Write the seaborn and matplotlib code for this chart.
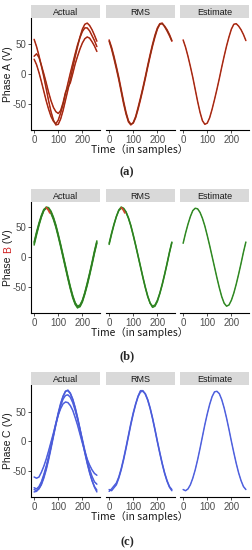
import numpy as np
import pandas as pd
import matplotlib
matplotlib.use("Agg")
import matplotlib.pyplot as plt
import seaborn as sns

sns.set_theme(style="ticks")
plt.rcParams['font.family'] = ['Liberation Sans', 'DejaVu Sans']
plt.rcParams['axes.unicode_minus'] = False

# time axis (samples), every 10 samples
t = list(range(0, 261, 10))

# Phase A
A_act1 = [58, 46, 31, 14, -4, -24, -44, -62, -76, -84, -83, -74, -60, -43, -26, -8, 11, 29, 46, 62, 75, 83, 85, 81, 74, 65, 55]
A_act2 = [30, 34, 28, 15, 1, -14, -30, -44, -55, -62, -65, -60, -47, -30, -22, -14, 1, 17, 30, 42, 52, 59, 62, 60, 54, 47, 38]
A_act3 = [25, 16, 3, -12, -28, -44, -58, -70, -78, -82, -76, -64, -50, -32, -15, 2, 18, 34, 49, 61, 71, 77, 77, 72, 64, 56, 46]
A_rms1 = [57, 45, 30, 13, -5, -25, -45, -63, -77, -83, -81, -72, -58, -42, -25, -7, 12, 30, 47, 62, 75, 83, 84, 80, 74, 66, 56]
A_rms2 = [55, 42, 26, 9, -9, -29, -49, -66, -79, -84, -80, -70, -55, -39, -22, -4, 15, 33, 50, 65, 77, 84, 85, 79, 72, 64, 55]
A_est = [57, 45, 30, 13, -5, -25, -45, -63, -77, -83, -81, -72, -58, -42, -25, -7, 12, 30, 47, 62, 75, 83, 84, 80, 74, 66, 56]

# Phase B
B_act1 = [23, 40, 55, 68, 78, 82, 81, 75, 65, 52, 36, 19, 1, -17, -35, -52, -67, -78, -83, -81, -73, -61, -46, -29, -11, 8, 25]
B_act2 = [20, 37, 53, 67, 78, 84, 83, 77, 67, 54, 38, 21, 3, -15, -33, -50, -65, -77, -84, -84, -76, -63, -48, -31, -13, 6, 23]
B_act3 = [25, 42, 57, 70, 80, 83, 80, 73, 63, 50, 34, 17, -1, -19, -37, -54, -69, -80, -86, -83, -74, -60, -44, -27, -9, 10, 27]
B_rms1 = [23, 40, 55, 68, 78, 82, 81, 75, 65, 52, 36, 19, 1, -17, -35, -52, -67, -78, -83, -81, -73, -61, -46, -29, -11, 8, 25]
B_rms2 = [21, 38, 54, 68, 79, 84, 82, 76, 66, 53, 37, 20, 2, -16, -34, -51, -66, -78, -85, -83, -75, -62, -47, -30, -12, 7, 24]
B_est = [23, 40, 55, 68, 78, 82, 81, 75, 65, 52, 36, 19, 1, -17, -35, -52, -67, -78, -83, -81, -73, -61, -46, -29, -11, 8, 25]
B_hi_t = [50, 55, 60, 65]
B_hi = [83, 81, 78, 74]

# Phase C
C_act1 = [-81, -83, -80, -73, -62, -48, -31, -12, 8, 28, 46, 62, 75, 84, 85, 80, 70, 56, 39, 20, 0, -19, -37, -53, -66, -76, -82]
C_act2 = [-60, -62, -60, -52, -42, -30, -16, -1, 14, 30, 44, 55, 63, 66, 65, 60, 52, 40, 27, 12, -3, -17, -30, -40, -48, -54, -57]
C_act3 = [-78, -80, -76, -68, -56, -42, -26, -8, 10, 28, 45, 60, 71, 77, 78, 74, 65, 52, 37, 20, 3, -15, -32, -47, -59, -68, -72]
C_act4 = [-85, -84, -79, -71, -59, -45, -28, -9, 11, 30, 48, 64, 76, 84, 86, 81, 71, 57, 40, 21, 1, -18, -36, -52, -66, -77, -85]
C_rms1 = [-81, -83, -78, -73, -62, -48, -31, -12, 8, 28, 46, 62, 75, 83, 84, 80, 70, 56, 39, 20, 0, -19, -37, -53, -66, -76, -81]
C_rms2 = [-84, -80, -75, -70, -60, -46, -29, -10, 10, 30, 48, 63, 76, 85, 85, 79, 69, 55, 38, 19, -1, -20, -38, -54, -67, -77, -83]
C_est = [-81, -83, -80, -73, -62, -48, -31, -12, 8, 28, 46, 62, 75, 83, 84, 80, 70, 56, 39, 20, 0, -19, -37, -53, -66, -76, -81]

facets = ["Actual", "RMS", "Estimate"]
captions = ["(a)", "(b)", "(c)"]
x_ticks = [0, 100, 200]
y_ticks = [-50, 0, 50]

series = {
    "A": {"Actual": [A_act1, A_act2, A_act3], "RMS": [A_rms1, A_rms2], "Estimate": [A_est]},
    "B": {"Actual": [B_act1, B_act2, B_act3], "RMS": [B_rms1, B_rms2], "Estimate": [B_est]},
    "C": {"Actual": [C_act1, C_act2, C_act3, C_act4], "RMS": [C_rms1, C_rms2], "Estimate": [C_est]},
}

rows = []
for ph, d in series.items():
    for fac, curves in d.items():
        for i, vals in enumerate(curves):
            for tt, v in zip(t, vals):
                rows.append((ph, fac, i, tt, v))
df = pd.DataFrame(rows, columns=["phase", "facet", "curve", "t", "V"])
hi_df = pd.DataFrame({"t": B_hi_t, "V": B_hi})

colors = {"A": ("#D8281C", "#7A3614"), "B": ("#3E9E30", "#2E7A22"), "C": ("#5E70EA", "#4A5AD4")}

W, H = 253, 550
fig = plt.figure(figsize=(W / 100, H / 100), dpi=100)

# pixel layout: (axes top, axes bottom) per phase
rows_px = [(18, 130), (202, 313), (385, 497)]
cols_px = [(31, 100), (106, 175), (180, 249)]
strip_h = 13
cap_y = [172, 356, 542]

for r, ph in enumerate(["A", "B", "C"]):
    top, bot = rows_px[r]
    sub = df[df.phase == ph]
    vmin, vmax = sub.V.min(), sub.V.max()
    pad = (vmax - vmin) * 0.05
    for c, fac in enumerate(facets):
        left, right = cols_px[c]
        ax = fig.add_axes([left / W, 1 - bot / H, (right - left) / W, (bot - top) / H])
        d = sub[sub.facet == fac]
        under, over = colors[ph]
        sns.lineplot(data=d, x="t", y="V", units="curve", estimator=None, color=under,
                     lw=1.1, ax=ax, legend=False, sort=False)
        sns.lineplot(data=d, x="t", y="V", units="curve", estimator=None, color=over,
                     lw=0.5, ax=ax, legend=False, sort=False)
        if ph == "B" and fac in ("Actual", "RMS"):
            sns.lineplot(data=hi_df, x="t", y="V", color="#D8402A", lw=1.2, ax=ax, legend=False)
        ax.set_xlim(-13, 273)
        ax.set_ylim(vmin - pad, vmax + pad)
        ax.set_xticks(x_ticks)
        ax.set_xticklabels([str(v) for v in x_ticks], fontsize=7, color="#4D4D4D")
        ax.tick_params(axis="x", length=2, width=0.6, pad=1.5, color="#333333")
        ax.set_xlabel("")
        ax.set_ylabel("")
        for s in ["top", "right"]:
            ax.spines[s].set_visible(False)
        ax.spines["bottom"].set_linewidth(0.8)
        ax.spines["bottom"].set_color("black")
        if c == 0:
            ax.set_yticks(y_ticks)
            ax.set_yticklabels([str(v) for v in y_ticks], fontsize=7, color="#4D4D4D")
            ax.tick_params(axis="y", length=2, width=0.6, pad=1.5, color="#333333")
            ax.spines["left"].set_linewidth(0.8)
            ax.spines["left"].set_color("black")
        else:
            ax.set_yticks([])
            ax.spines["left"].set_visible(False)
        ax.patch.set_alpha(0)
        # strip
        sax = fig.add_axes([left / W, 1 - top / H, (right - left) / W, strip_h / H])
        sax.set_facecolor("#D9D9D9")
        sax.set_xticks([])
        sax.set_yticks([])
        for s in sax.spines.values():
            s.set_visible(False)
        sax.text(0.5, 0.45, fac, ha="center", va="center", fontsize=6.5, color="#1A1A1A",
                 transform=sax.transAxes)

    # x label and caption
    fig.text(140 / W, 1 - (bot + 20) / H, "Time（in samples）", ha="center", va="center",
             fontsize=7.5, color="#1A1A1A", family=["Noto Sans CJK SC", "DejaVu Sans"])
    fig.text(127 / W, 1 - cap_y[r] / H, captions[r], ha="center", va="center",
             fontsize=9, fontweight="bold", family=["Liberation Serif", "DejaVu Serif"])

# y labels (B is highlighted in red in the reference)
fig.canvas.draw()
renderer = fig.canvas.get_renderer()
for r, ph in enumerate(["A", "B", "C"]):
    top, bot = rows_px[r]
    parts = [("Phase ", "#1A1A1A"), (ph, "#D02020" if ph == "B" else "#1A1A1A"), (" (V)", "#1A1A1A")]
    xl = 8 / W
    texts = []
    y = 0
    for s, col in parts:
        tx = fig.text(xl, y, s, rotation=90, ha="center", va="bottom", fontsize=7.5, color=col)
        bb = tx.get_window_extent(renderer)
        texts.append((tx, bb.height))
        y += bb.height / H
    total = y
    y0 = 1 - (top + bot) / 2 / H - total / 2
    for tx, h in texts:
        tx.set_y(y0)
        y0 += h / H

fig.savefig("out.png", dpi=100)
